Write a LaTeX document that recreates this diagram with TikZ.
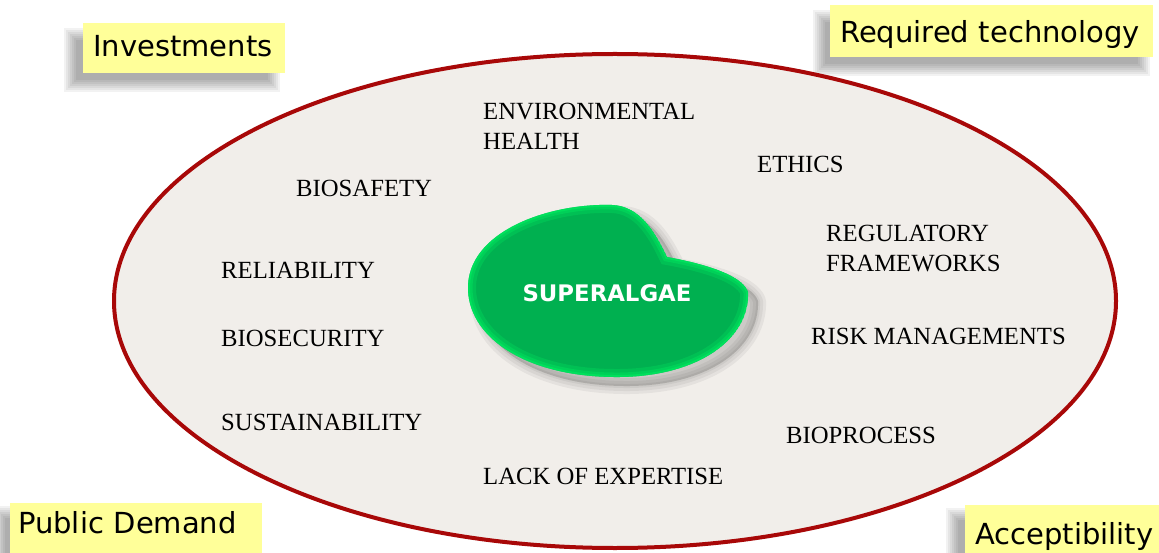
\documentclass[tikz,border=0pt]{standalone}
\usepackage{fontspec}
\setmainfont{Liberation Serif}
\setsansfont{DejaVu Sans}
\usetikzlibrary{calc}
\usetikzlibrary{positioning}
\usetikzlibrary{backgrounds}

\definecolor{ovalfill}{HTML}{F1EEEA}
\definecolor{ovalline}{HTML}{A80808}
\definecolor{tagyellow}{HTML}{FFFF99}
\definecolor{algaegreen}{HTML}{00B050}
\definecolor{algaeglow}{HTML}{00F060}

\tikzset{
  factor/.style={anchor=base west, inner sep=0pt, align=left,
    font=\fontsize{24.7}{30}\selectfont},
  tag/.style={anchor=base west, fill=tagyellow, inner ysep=0pt, align=left,
    font=\sffamily\fontsize{29}{34}\selectfont},
}

\newcommand\algaeoutline{(468,290) .. controls (466,232) and (548,203) .. (612,205)
  .. controls (640,206) and (655,232) .. (667,257)
  .. controls (700,263) and (742,274) .. (748,292)
  .. controls (750,338) and (700,376) .. (620,377)
  .. controls (530,378) and (470,340) .. (468,290) -- cycle}

\newcommand\tagshadow[3]{%
  \foreach \k in {0,...,6}
    \fill[black, opacity=0.05] ($(#1.north west)+(#2-7+2*\k,#3-7+2*\k)$)
      rectangle ($(#1.south east)+(#2+7-2*\k,#3+7-2*\k)$);}

\begin{document}
\begin{tikzpicture}[x=1pt, y=-1pt]
  \useasboundingbox (0,0) rectangle (1159,553);
  \clip (0,0) rectangle (1159,553);
  \begin{scope}[on background layer]
    \fill[white] (0,0) rectangle (1159,553);
  \end{scope}

  % the oval
  \draw[line width=4pt, draw=ovalline, fill=ovalfill] (615,301) ellipse [x radius=501, y radius=247];

  % superalgae blob
  \foreach \w in {16,10,4}
    \filldraw[black, opacity=0.05, line width=\w pt, line join=round, shift={(10,9)}] \algaeoutline;
  \begin{scope}
    \clip \algaeoutline;
    \fill[algaegreen] \algaeoutline;
    \draw[algaeglow, opacity=0.25, line width=16pt] \algaeoutline;
    \draw[algaeglow, opacity=0.35, line width=9pt] \algaeoutline;
    \draw[algaeglow, opacity=0.5, line width=4pt] \algaeoutline;
  \end{scope}
  \node[font=\sffamily\bfseries\fontsize{22.8}{26}\selectfont, text=white] (algae) at (607,293) {SUPERALGAE};

  % factors
  \node[factor] (envhealth) at (483,150) {ENVIRONMENTAL\\HEALTH};
  \node[factor] (ethics) at (757,173) {ETHICS};
  \node[factor] (biosafety) at (296,197) {BIOSAFETY};
  \node[factor] (regulatory) at (826,272) {REGULATORY\\FRAMEWORKS};
  \node[factor] (reliability) at (221,279) {RELIABILITY};
  \node[factor] (biosecurity) at (221,346) {BIOSECURITY};
  \node[factor] (risk) at (811,344) {RISK MANAGEMENTS};
  \node[factor] (sustain) at (221,430) {SUSTAINABILITY};
  \node[factor] (bioprocess) at (786,443) {BIOPROCESS};
  \node[factor] (expertise) at (483,484) {LACK OF EXPERTISE};

  % yellow tags
  \node[tag, inner xsep=10pt, text width=182pt, text height=34pt, text depth=16pt] (invest) at (83,57) {Investments};
  \node[tag, inner xsep=10pt, text width=303pt, text height=38pt, text depth=14pt] (techno) at (830,43) {Required technology};
  \node[tag, inner xsep=8pt, text width=236pt, text height=30pt, text depth=32pt] (demand) at (10,533) {Public Demand};
  \node[tag, inner xsep=10pt, text width=185pt, text height=39pt, text depth=21pt] (accept) at (965,544) {Acceptibility};

  \begin{scope}[on background layer]
    \tagshadow{invest}{-12}{12}
    \tagshadow{techno}{-10}{12}
    \tagshadow{demand}{-10}{10}
    \tagshadow{accept}{-12}{10}
  \end{scope}
\end{tikzpicture}
\end{document}
